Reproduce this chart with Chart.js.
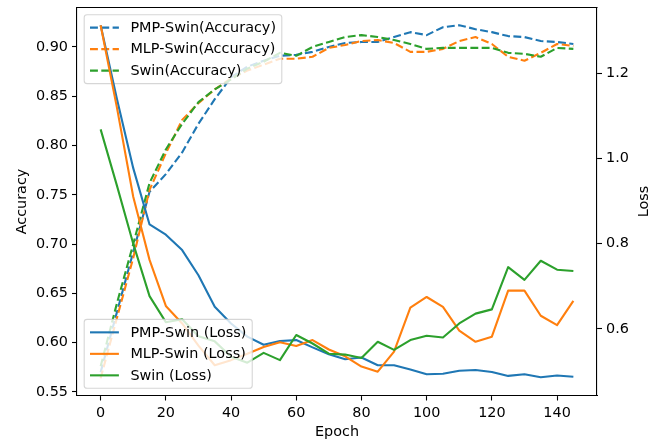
<!DOCTYPE html>
<html>
<head>
<meta charset="utf-8">
<title>Accuracy / Loss per epoch</title>
<script src="https://cdn.jsdelivr.net/npm/chart.js@4.4.1/dist/chart.umd.min.js"></script>
<style>
  html, body { margin: 0; padding: 0; background: #fff; }
  #chart { display: block; }
</style>
</head>
<body>
<canvas id="chart" width="672" height="439"></canvas>
<script>
// epochs (x axis)
const epochs = [0, 5, 10, 15, 20, 25, 30, 35, 40, 45, 50, 55, 60, 65, 70,
  75, 80, 85, 90, 95, 100, 105, 110, 115, 120, 125, 130, 135, 140, 145];

// accuracy (left axis)
const accPmp = [0.570, 0.631, 0.692, 0.753, 0.771, 0.793, 0.822, 0.847, 0.869, 0.880,
  0.886, 0.891, 0.892, 0.895, 0.900, 0.904, 0.905, 0.905, 0.910, 0.915,
  0.912, 0.920, 0.922, 0.918, 0.915, 0.911, 0.910, 0.906, 0.905, 0.903];
const accMlp = [0.564, 0.625, 0.686, 0.755, 0.792, 0.826, 0.843, 0.857, 0.868, 0.876,
  0.882, 0.888, 0.888, 0.890, 0.899, 0.902, 0.906, 0.907, 0.904, 0.895,
  0.895, 0.898, 0.906, 0.910, 0.903, 0.890, 0.886, 0.894, 0.903, 0.901];
const accSwin = [0.576, 0.640, 0.700, 0.762, 0.796, 0.822, 0.844, 0.857, 0.867, 0.878,
  0.885, 0.894, 0.891, 0.900, 0.905, 0.910, 0.912, 0.910, 0.907, 0.903,
  0.898, 0.899, 0.899, 0.899, 0.899, 0.894, 0.893, 0.890, 0.899, 0.898];

// loss (right axis)
const lossPmp = [1.312, 1.139, 0.977, 0.845, 0.821, 0.785, 0.726, 0.652, 0.613, 0.582,
  0.563, 0.572, 0.574, 0.557, 0.541, 0.529, 0.533, 0.515, 0.515, 0.505,
  0.494, 0.495, 0.502, 0.504, 0.499, 0.490, 0.494, 0.487, 0.491, 0.488];
const lossMlp = [1.312, 1.119, 0.910, 0.762, 0.654, 0.613, 0.561, 0.515, 0.527, 0.542,
  0.558, 0.569, 0.560, 0.574, 0.552, 0.536, 0.512, 0.500, 0.547, 0.650,
  0.675, 0.652, 0.596, 0.570, 0.582, 0.690, 0.690, 0.631, 0.609, 0.666];
const lossSwin = [1.068, 0.936, 0.800, 0.677, 0.616, 0.623, 0.583, 0.571, 0.535, 0.521,
  0.544, 0.527, 0.586, 0.566, 0.542, 0.540, 0.532, 0.570, 0.551, 0.574,
  0.584, 0.580, 0.613, 0.636, 0.646, 0.745, 0.715, 0.760, 0.739, 0.736];

// tick labels
const xTicks = [0, 20, 40, 60, 80, 100, 120, 140];
const accTicks = [0.55, 0.60, 0.65, 0.70, 0.75, 0.80, 0.85, 0.90];
const lossTicks = [0.6, 0.8, 1.0, 1.2];

const FONT = "DejaVu Sans";
const FS = 14.4;
const LW = 2.1;             // 1.5pt lines
const DASH = [7.9, 3.4];    // matplotlib '--'
const BLUE = "#1f77b4", ORANGE = "#ff7f0e", GREEN = "#2ca02c";

function pts(values) {
  return epochs.map((e, i) => ({ x: e, y: values[i] }));
}

function lineSet(label, values, color, axis, dashed, order) {
  return {
    label,
    data: pts(values),
    yAxisID: axis,
    borderColor: color,
    backgroundColor: color,
    borderWidth: LW,
    borderDash: dashed ? DASH : [],
    borderJoinStyle: "round",
    pointRadius: 0,
    pointHoverRadius: 0,
    tension: 0,
    fill: false,
    order,
  };
}

/** rounded box path */
function roundBox(ctx, x, y, w, h, r) {
  ctx.beginPath();
  ctx.moveTo(x + r, y);
  ctx.arcTo(x + w, y, x + w, y + h, r);
  ctx.arcTo(x + w, y + h, x, y + h, r);
  ctx.arcTo(x, y + h, x, y, r);
  ctx.arcTo(x, y, x + w, y, r);
  ctx.closePath();
}

/** matplotlib-like legend drawn inside the axes */
function drawLegendBox(chart, indices, corner) {
  const ctx = chart.ctx;
  const area = chart.chartArea;
  const pad = 5.8, handleLen = 28.9, textPad = 11.5, rowH = 14.3, gap = 7.2, edge = 7.2;
  const sets = indices.map((i) => chart.data.datasets[i]);

  ctx.save();
  ctx.font = `${FS}px "${FONT}"`;
  const textW = Math.max(...sets.map((d) => ctx.measureText(d.label).width));
  const w = pad * 2 + handleLen + textPad + textW;
  const h = pad * 2 + sets.length * rowH + (sets.length - 1) * gap;
  const left = area.left + edge;
  const top = corner === "upper" ? area.top + edge : area.bottom - edge - h;

  roundBox(ctx, left, top, w, h, 2.9);
  ctx.fillStyle = "rgba(255,255,255,0.8)";
  ctx.fill();
  ctx.strokeStyle = "rgba(204,204,204,0.8)";
  ctx.lineWidth = 1.1;
  ctx.stroke();

  sets.forEach((d, k) => {
    const cy = top + pad + rowH / 2 + k * (rowH + gap);
    ctx.beginPath();
    ctx.setLineDash(d.borderDash || []);
    ctx.strokeStyle = d.borderColor;
    ctx.lineWidth = d.borderWidth;
    ctx.moveTo(left + pad, cy);
    ctx.lineTo(left + pad + handleLen, cy);
    ctx.stroke();
    ctx.setLineDash([]);
    ctx.fillStyle = "#000";
    ctx.textAlign = "left";
    ctx.textBaseline = "middle";
    ctx.fillText(d.label, left + pad + handleLen + textPad, cy + 0.5);
  });
  ctx.restore();
}

const twinLegends = {
  id: "twinLegends",
  beforeDatasetDraw(chart, args) {
    // accuracy legend sits under the loss lines (twin axes drawn on top)
    if (args.index === 3) drawLegendBox(chart, [0, 1, 2], "upper");
  },
  afterDatasetsDraw(chart) {
    drawLegendBox(chart, [3, 4, 5], "lower");
    const { ctx, chartArea: a } = chart;
    ctx.save();
    // top spine
    ctx.strokeStyle = "#000";
    ctx.lineWidth = 1.1;
    ctx.beginPath();
    ctx.moveTo(a.left - 0.5, a.top);
    ctx.lineTo(a.right + 0.5, a.top);
    ctx.stroke();
    // right axis label, reading bottom to top like matplotlib
    ctx.translate(644, (a.top + a.bottom) / 2);
    ctx.rotate(-Math.PI / 2);
    ctx.font = `${FS}px "${FONT}"`;
    ctx.fillStyle = "#000";
    ctx.textAlign = "center";
    ctx.textBaseline = "middle";
    ctx.fillText("Loss", 0, 0);
    ctx.restore();
  },
};

function axisStyle(extra) {
  return Object.assign({
    grid: {
      display: true,
      drawOnChartArea: false,
      drawTicks: true,
      tickLength: 5,
      tickWidth: 1.1,
      tickColor: "#000",
    },
    border: { display: true, color: "#000", width: 1.1 },
  }, extra);
}

function fixSize(prop, size) {
  return (s) => {
    s[prop] = size;
    s.paddingTop = 0;
    s.paddingBottom = 0;
    s.paddingLeft = 0;
    s.paddingRight = 0;
  };
}

const ctx = document.getElementById("chart").getContext("2d");
new Chart(ctx, {
  type: "line",
  data: {
    datasets: [
      lineSet("PMP-Swin(Accuracy)", accPmp, BLUE, "yAcc", true, 6),
      lineSet("MLP-Swin(Accuracy)", accMlp, ORANGE, "yAcc", true, 5),
      lineSet("Swin(Accuracy)", accSwin, GREEN, "yAcc", true, 4),
      lineSet("PMP-Swin (Loss)", lossPmp, BLUE, "yLoss", false, 3),
      lineSet("MLP-Swin (Loss)", lossMlp, ORANGE, "yLoss", false, 2),
      lineSet("Swin (Loss)", lossSwin, GREEN, "yLoss", false, 1),
    ],
  },
  options: {
    responsive: false,
    animation: false,
    devicePixelRatio: 1,
    layout: { padding: { left: 0, right: 0, top: 7.5, bottom: 0 } },
    plugins: {
      legend: { display: false },
      tooltip: { enabled: false },
    },
    scales: {
      x: axisStyle({
        type: "linear",
        position: "bottom",
        min: -7.25,
        max: 152.25,
        afterBuildTicks: (s) => { s.ticks = xTicks.map((v) => ({ value: v })); },
        afterFit: fixSize("height", 43.5),
        ticks: {
          color: "#000",
          font: { family: FONT, size: FS },
          padding: 4,
          maxRotation: 0,
          autoSkip: false,
          callback: (v) => String(v),
        },
        title: {
          display: true,
          text: "Epoch",
          color: "#000",
          font: { family: FONT, size: FS, lineHeight: 1 },
          padding: 0,
        },
      }),
      yAcc: axisStyle({
        type: "linear",
        position: "left",
        min: 0.5464,
        max: 0.940,
        afterBuildTicks: (s) => { s.ticks = accTicks.map((v) => ({ value: v })); },
        afterFit: fixSize("width", 77),
        ticks: {
          color: "#000",
          font: { family: FONT, size: FS },
          padding: 4,
          autoSkip: false,
          callback: (v) => Number(v).toFixed(2),
        },
        title: {
          display: true,
          text: "Accuracy",
          color: "#000",
          font: { family: FONT, size: FS, lineHeight: 1 },
          padding: { top: 14.8, bottom: 0 },
        },
      }),
      yLoss: axisStyle({
        type: "linear",
        position: "right",
        min: 0.4441,
        max: 1.3536,
        afterBuildTicks: (s) => { s.ticks = lossTicks.map((v) => ({ value: v })); },
        afterFit: fixSize("width", 75),
        ticks: {
          color: "#000",
          font: { family: FONT, size: FS },
          padding: 4,
          autoSkip: false,
          callback: (v) => Number(v).toFixed(1),
        },
        title: { display: false },
      }),
    },
  },
  plugins: [twinLegends],
});
</script>
</body>
</html>
